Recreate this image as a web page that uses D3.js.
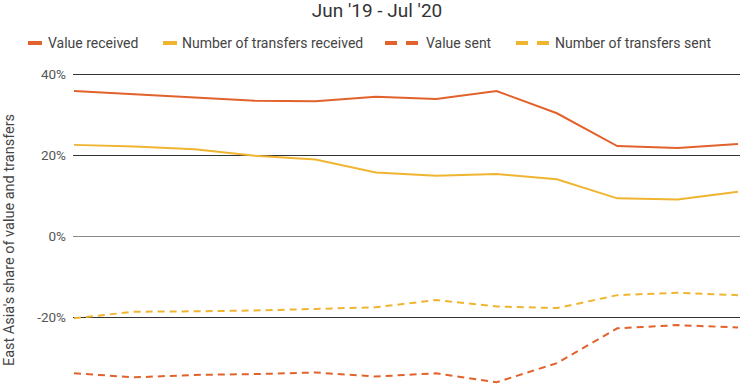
<!DOCTYPE html>
<html>
<head>
<meta charset="utf-8">
<script src="https://cdn.jsdelivr.net/npm/d3@7"></script>
<style>
  body { margin: 0; background: #fff; }
  svg { display: block; font-family: Roboto, "Noto Sans", sans-serif; }
</style>
</head>
<body>
<svg id="chart" width="744" height="390"></svg>
<script>
// Monthly points (x axis itself is cropped away)
var months = ["m1", "m2", "m3", "m4", "m5", "m6", "m7", "m8", "m9", "m10", "m11", "m12"];
var valueReceived = [35.8, 35.0, 34.2, 33.4, 33.3, 34.4, 33.8, 35.8, 30.3, 22.2, 21.7, 22.7];
var transfersReceived = [22.5, 22.1, 21.4, 19.8, 18.9, 15.7, 14.9, 15.3, 14.0, 9.3, 9.0, 10.9];
var valueSent = [-33.9, -34.9, -34.3, -34.1, -33.7, -34.7, -33.9, -36.1, -31.4, -22.8, -22.0, -22.6];
var transfersSent = [-20.3, -18.7, -18.6, -18.4, -18.0, -17.6, -15.8, -17.4, -17.8, -14.6, -14.0, -14.6];
var yTicks = [40, 20, 0, -20, -40];

var seriesNames = ["Value received", "Number of transfers received", "Value sent", "Number of transfers sent"];
var orange = "#e2622c", yellow = "#f0b530";

var series = [
  { name: seriesNames[0], values: valueReceived, color: orange, dash: null },
  { name: seriesNames[1], values: transfersReceived, color: yellow, dash: null },
  { name: seriesNames[2], values: valueSent, color: orange, dash: "7,5" },
  { name: seriesNames[3], values: transfersSent, color: yellow, dash: "7,5" }
];

var svg = d3.select("#chart");

var x = d3.scalePoint().domain(months).range([74, 738]);
var y = d3.scaleLinear().domain([-40, 40]).range([398, 74]);

// title (only the second line shows in the crop)
svg.append("text")
  .attr("x", 377).attr("y", 17)
  .attr("text-anchor", "middle")
  .attr("font-size", 19)
  .attr("fill", "#333")
  .text("Jun '19 - Jul '20");

// legend
var legendPos = [
  { sx: 28, sw: 14, tx: 48 },
  { sx: 163, sw: 14, tx: 182 },
  { sx: 385, sw: 35, tx: 426 },
  { sx: 516, sw: 35, tx: 555 }
];
var legend = svg.append("g");
series.forEach(function(s, i) {
  var p = legendPos[i];
  if (s.dash) {
    legend.append("line")
      .attr("x1", p.sx).attr("x2", p.sx + 12)
      .attr("y1", 43).attr("y2", 43)
      .attr("stroke", s.color).attr("stroke-width", 4);
    legend.append("line")
      .attr("x1", p.sx + 21).attr("x2", p.sx + 33)
      .attr("y1", 43).attr("y2", 43)
      .attr("stroke", s.color).attr("stroke-width", 4);
  } else {
    legend.append("line")
      .attr("x1", p.sx).attr("x2", p.sx + p.sw)
      .attr("y1", 43).attr("y2", 43)
      .attr("stroke", s.color).attr("stroke-width", 4);
  }
  legend.append("text")
    .attr("x", p.tx).attr("y", 48)
    .attr("font-size", 14)
    .attr("fill", "#444")
    .text(s.name);
});

// gridlines + y labels
var yAxis = d3.axisLeft(y).tickValues(yTicks)
  .tickSize(-667)
  .tickPadding(7)
  .tickFormat(function(d) { return d + "%"; });

var gy = svg.append("g")
  .attr("transform", "translate(73,0)")
  .call(yAxis);
gy.select(".domain").remove();
gy.selectAll(".tick line")
  .attr("stroke", function(d) { return d === 0 ? "#8a8a8a" : "#333"; })
  .attr("stroke-width", 1);
gy.selectAll(".tick text")
  .attr("font-size", 13.5)
  .attr("font-family", "Roboto, sans-serif")
  .attr("fill", "#555");

// y axis title
svg.append("text")
  .attr("transform", "translate(14,240) rotate(-90)")
  .attr("text-anchor", "middle")
  .attr("font-size", 14.5)
  .attr("fill", "#444")
  .text("East Asia's share of value and transfers");

// lines
var line = d3.line()
  .x(function(d, i) { return x(months[i]); })
  .y(function(d) { return y(d); });

svg.append("g").selectAll("path")
  .data(series)
  .enter().append("path")
  .attr("d", function(d) { return line(d.values); })
  .attr("fill", "none")
  .attr("stroke", function(d) { return d.color; })
  .attr("stroke-width", 2)
  .attr("stroke-dasharray", function(d) { return d.dash; });
</script>
</body>
</html>
